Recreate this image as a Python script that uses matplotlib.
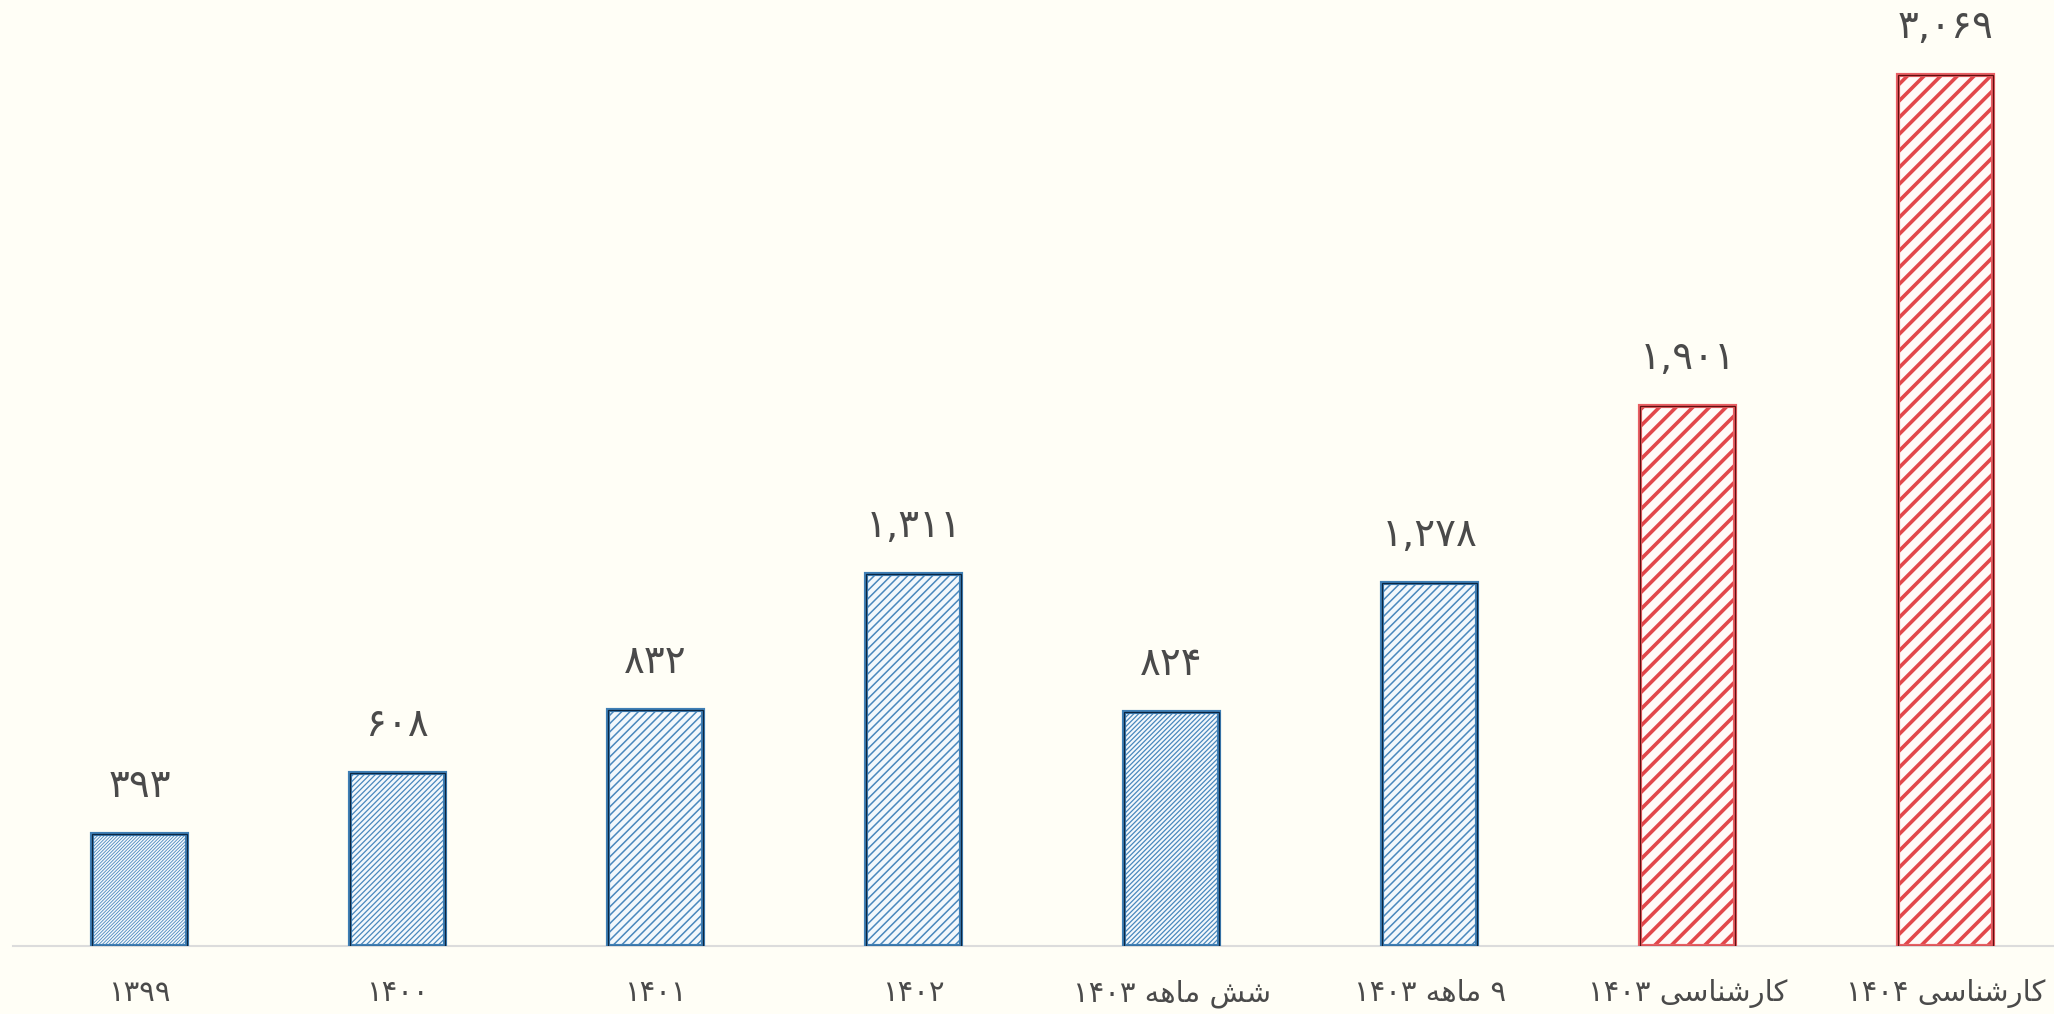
import matplotlib
matplotlib.use('Agg')
import matplotlib.pyplot as plt
import numpy as np

# داده ها
categories = ['۱۳۹۹', '۱۴۰۰', '۱۴۰۱', '۱۴۰۲', 'شش ماهه ۱۴۰۳', '۹ ماهه ۱۴۰۳', 'کارشناسی ۱۴۰۳', 'کارشناسی ۱۴۰۴']
values = [393, 608, 832, 1311, 824, 1278, 1901, 3069]
is_forecast = [False, False, False, False, False, False, True, True]
hatch_density = [10, 6, 4, 4, 7, 4, 2, 2]
hatch_width = [0.6, 0.9, 1.1, 1.1, 0.9, 1.1, 2.6, 2.6]

bg = '#fffef6'
text_color = '#4a4a4a'

# presentation forms: (isolated, final, initial, medial); None = does not join forward
forms = {
    'ش': ('\uFEB5', '\uFEB6', '\uFEB7', '\uFEB8'),
    'م': ('\uFEE1', '\uFEE2', '\uFEE3', '\uFEE4'),
    'ا': ('\uFE8D', '\uFE8E', None, None),
    'ه': ('\uFEE9', '\uFEEA', '\uFEEB', '\uFEEC'),
    'ک': ('\uFB8E', '\uFB8F', '\uFB90', '\uFB91'),
    'ر': ('\uFEAD', '\uFEAE', None, None),
    'ن': ('\uFEE5', '\uFEE6', '\uFEE7', '\uFEE8'),
    'س': ('\uFEB1', '\uFEB2', '\uFEB3', '\uFEB4'),
    'ی': ('\uFBFC', '\uFBFD', '\uFBFE', '\uFBFF'),
}


def shape_word(w):
    out = []
    for i, ch in enumerate(w):
        if ch not in forms:
            out.append(ch)
            continue
        prev = w[i-1] if i > 0 else None
        nxt = w[i+1] if i < len(w) - 1 else None
        join_prev = prev in forms and forms[prev][2] is not None
        join_next = forms[ch][2] is not None and nxt in forms
        iso, fin, ini, med = forms[ch]
        if join_prev and join_next:
            out.append(med)
        elif join_prev:
            out.append(fin)
        elif join_next:
            out.append(ini)
        else:
            out.append(iso)
    return ''.join(out)


def rtl(s):
    # simple visual ordering for the labels (words reversed, digits stay ltr)
    words = s.split(' ')
    vis = []
    for w in words[::-1]:
        if any(c in forms for c in w):
            vis.append(shape_word(w)[::-1])
        else:
            vis.append(w)
    return ' '.join(vis)


def fa_num(n):
    s = '{:,}'.format(n)
    return s.translate(str.maketrans('0123456789', '۰۱۲۳۴۵۶۷۸۹'))


plt.rcParams['font.family'] = ['DejaVu Sans']

fig = plt.figure(figsize=(20.54, 10.14), dpi=100, facecolor=bg)
ax = fig.add_axes([13/2054, 68/1014, 1 - 13/2054, 1 - 68/1014])
ax.set_facecolor(bg)

x = np.arange(len(values))
for i in range(len(values)):
    if is_forecast[i]:
        hc, ec, fc = '#e2474b', '#5e1010', '#fffaf8'
        olc = '#e86064'
    else:
        hc, ec, fc = '#4a88bd', '#0c2640', '#f3f8fc'
        olc = '#3f7fb5'
    with plt.rc_context({'hatch.linewidth': hatch_width[i]}):
        ax.bar(x[i], values[i], width=0.37, color=fc, edgecolor=hc,
               hatch='/' * hatch_density[i], linewidth=0, zorder=2)
    ax.bar(x[i], values[i], width=0.37, fill=False, edgecolor=olc, linewidth=3, zorder=3)
    ax.bar(x[i], values[i], width=0.37, fill=False, edgecolor=ec, linewidth=0.9, zorder=4)
    ax.annotate(fa_num(values[i]), (x[i], values[i]), xytext=(0, 48),
                textcoords='offset pixels', ha='center', va='center',
                fontsize=28, color=text_color)

ax.set_xlim(-0.49, 7.42)
ax.set_ylim(0, 3333)
ax.set_xticks(x)
ax.set_xticklabels([rtl(c) for c in categories], fontsize=21, color=text_color)
ax.tick_params(axis='x', length=0, pad=24)
ax.set_yticks([])
for s in ['top', 'right', 'left']:
    ax.spines[s].set_visible(False)
ax.spines['bottom'].set_color('#dcdcdc')
ax.spines['bottom'].set_linewidth(1.5)
ax.spines['bottom'].set_zorder(1)

fig.savefig('out.png', dpi=100, facecolor=bg)
